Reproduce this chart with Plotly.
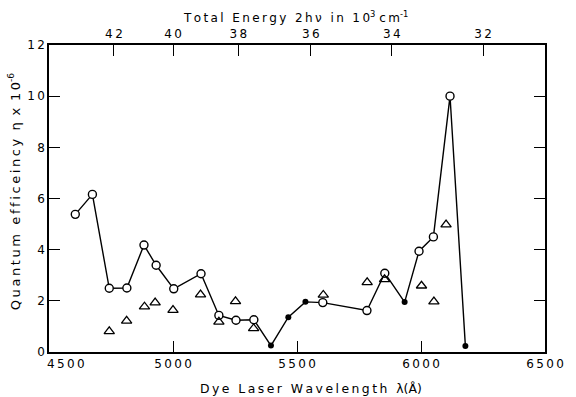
import plotly.graph_objects as go

# Quantum efficiency vs dye laser wavelength (two-photon measurements)
# Open circles: measured points joined by the solid curve
open_wavelength = [4606, 4675, 4743, 4814, 4883, 4932, 5003, 5113, 5185, 5254,
                   5326, 5604, 5782, 5854, 5992, 6050, 6117]
open_efficiency = [5.38, 6.16, 2.49, 2.50, 4.18, 3.39, 2.47, 3.06, 1.43, 1.24,
                   1.26, 1.93, 1.62, 3.08, 3.94, 4.50, 10.0]

# Filled circles: also on the solid curve
filled_wavelength = [5395, 5465, 5534, 5934, 6179]
filled_efficiency = [0.25, 1.36, 1.96, 1.95, 0.23]

# Open triangles: second data set, not connected
triangle_wavelength = [4743, 4813, 4885, 4928, 5000, 5111, 5185, 5252, 5325,
                       5606, 5783, 5853, 6002, 6052, 6101]
triangle_efficiency = [0.81, 1.22, 1.77, 1.93, 1.64, 2.24, 1.18, 1.98, 0.92,
                       2.23, 2.72, 2.84, 2.59, 1.97, 4.98]

wavelength_ticks = [4500, 5000, 5500, 6000, 6500]
efficiency_ticks = [0, 2, 4, 6, 8, 10, 12]
energy_ticks = [42, 40, 38, 36, 34, 32]  # total energy 2hv in 10^3 cm^-1

FONT = "DejaVu Sans"
SP = "\u2009"  # thin space used as letter spacing


def spaced(s):
    return SP.join(list(s))


# Solid curve through both circle sets, in wavelength order
curve = sorted(zip(open_wavelength + filled_wavelength,
                   open_efficiency + filled_efficiency))
curve_x = [p[0] for p in curve]
curve_y = [p[1] for p in curve]

fig = go.Figure()

fig.add_trace(go.Scatter(
    x=curve_x, y=curve_y, mode="lines",
    line=dict(color="black", width=1.4), hoverinfo="skip", showlegend=False))

fig.add_trace(go.Scatter(
    x=triangle_wavelength, y=triangle_efficiency, mode="markers",
    marker=dict(symbol="triangle-up-open", size=9, color="black",
                line=dict(width=1.3, color="black")),
    xaxis="x2", showlegend=False))

fig.add_trace(go.Scatter(
    x=open_wavelength, y=open_efficiency, mode="markers",
    marker=dict(symbol="circle", size=8, color="white",
                line=dict(width=1.4, color="black")),
    showlegend=False))

fig.add_trace(go.Scatter(
    x=filled_wavelength, y=filled_efficiency, mode="markers",
    marker=dict(symbol="circle", size=6, color="black",
                line=dict(width=0, color="black")),
    showlegend=False))

tick_font = dict(family=FONT, size=12, color="black")
axis_common = dict(showgrid=False, zeroline=False, showline=True,
                   linecolor="black", linewidth=1.5, ticks="inside",
                   ticklen=11, tickwidth=1.3, tickcolor="black",
                   tickfont=tick_font)

fig.update_layout(
    width=576, height=397,
    margin=dict(l=49, r=22, t=45, b=45),
    paper_bgcolor="white", plot_bgcolor="white",
    xaxis=dict(range=[4500, 6500], tickvals=wavelength_ticks[1:],
               ticktext=[spaced(str(v)) for v in wavelength_ticks[1:]],
               **axis_common),
    xaxis2=dict(range=[4500, 6500], overlaying="x", side="top",
                tickvals=[2e5 / e for e in energy_ticks],
                ticktext=[spaced(str(e)) for e in energy_ticks],
                **axis_common),
    yaxis=dict(range=[0, 12], tickvals=efficiency_ticks,
               ticktext=[spaced(str(v)) for v in efficiency_ticks],
               mirror="ticks", **axis_common),
)

# First wavelength label sits to the right of the corner
fig.add_annotation(x=wavelength_ticks[0], y=0, xref="x", yref="y",
                   text=spaced(str(wavelength_ticks[0])),
                   showarrow=False, xanchor="left", yanchor="top",
                   xshift=-4, yshift=-3, font=tick_font)

fig.add_annotation(
    x=0.5 + 14 / 505, y=-0.118, xref="paper", yref="paper",
    text=spaced("Dye Laser Wavelength ") + SP + "\u03bb(\u00c5)",
    showarrow=False, xanchor="center", yanchor="middle",
    font=dict(family=FONT, size=12.4, color="black"))

fig.add_annotation(
    x=-0.071, y=0.5 + 7 / 307, xref="paper", yref="paper", textangle=-90,
    text=spaced("Quantum efficeincy") + "  \u03b7" + SP + " x " + SP
    + spaced("10") + "<sup>-6</sup>",
    showarrow=False, xanchor="center", yanchor="middle",
    font=dict(family=FONT, size=13, color="black"))

fig.add_annotation(
    x=0.496, y=1 + 28 / 307, xref="paper", yref="paper",
    text=spaced("Total Energy 2h\u03bd in ") + SP + spaced("10")
    + "<sup>3</sup> " + spaced("cm") + "<sup>-1</sup>",
    showarrow=False, xanchor="center", yanchor="middle",
    font=dict(family=FONT, size=12, color="black"))

fig.write_html("out.html")
